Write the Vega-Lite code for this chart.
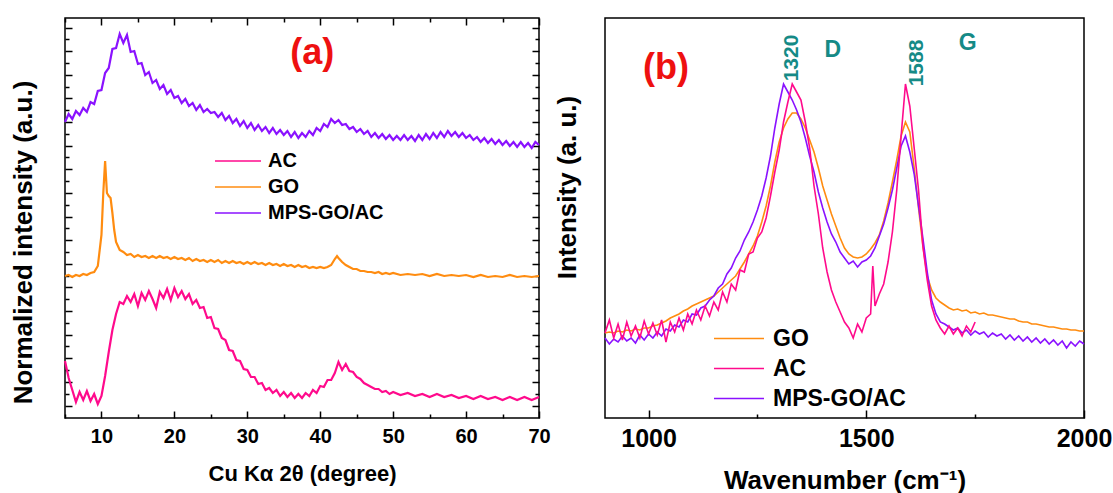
{
  "$schema": "https://vega.github.io/schema/vega-lite/v6.json",
  "background": "white",
  "padding": {"left": 9, "top": 16, "right": 0, "bottom": 0},
  "spacing": 2,
  "datasets": {
    "xrd": [
      {"s":"MPS-GO/AC","x":5,"y":296},{"s":"MPS-GO/AC","x":5.5,"y":304},{"s":"MPS-GO/AC","x":6,"y":299},{"s":"MPS-GO/AC","x":6.5,"y":307},{"s":"MPS-GO/AC","x":7,"y":303},{"s":"MPS-GO/AC","x":7.5,"y":310},{"s":"MPS-GO/AC","x":8,"y":306},{"s":"MPS-GO/AC","x":8.5,"y":316},{"s":"MPS-GO/AC","x":9,"y":314},{"s":"MPS-GO/AC","x":9.5,"y":327},
      {"s":"MPS-GO/AC","x":10,"y":328},{"s":"MPS-GO/AC","x":10.5,"y":345},{"s":"MPS-GO/AC","x":11,"y":350},{"s":"MPS-GO/AC","x":11.5,"y":369},{"s":"MPS-GO/AC","x":12,"y":370},{"s":"MPS-GO/AC","x":12.5,"y":384},{"s":"MPS-GO/AC","x":13,"y":375},{"s":"MPS-GO/AC","x":13.5,"y":383},{"s":"MPS-GO/AC","x":14,"y":366},{"s":"MPS-GO/AC","x":14.5,"y":367},
      {"s":"MPS-GO/AC","x":15,"y":354},{"s":"MPS-GO/AC","x":15.5,"y":355},{"s":"MPS-GO/AC","x":16,"y":343},{"s":"MPS-GO/AC","x":16.5,"y":346},{"s":"MPS-GO/AC","x":17,"y":335},{"s":"MPS-GO/AC","x":17.5,"y":338},{"s":"MPS-GO/AC","x":18,"y":329},{"s":"MPS-GO/AC","x":18.5,"y":333},{"s":"MPS-GO/AC","x":19,"y":324},{"s":"MPS-GO/AC","x":19.5,"y":328},
      {"s":"MPS-GO/AC","x":20,"y":320},{"s":"MPS-GO/AC","x":20.5,"y":322},{"s":"MPS-GO/AC","x":21,"y":315},{"s":"MPS-GO/AC","x":21.5,"y":319},{"s":"MPS-GO/AC","x":22,"y":312},{"s":"MPS-GO/AC","x":22.5,"y":315},{"s":"MPS-GO/AC","x":23,"y":308},{"s":"MPS-GO/AC","x":23.5,"y":313},{"s":"MPS-GO/AC","x":24,"y":306},{"s":"MPS-GO/AC","x":24.5,"y":309},
      {"s":"MPS-GO/AC","x":25,"y":305},{"s":"MPS-GO/AC","x":25.5,"y":306},{"s":"MPS-GO/AC","x":26,"y":301},{"s":"MPS-GO/AC","x":26.5,"y":305},{"s":"MPS-GO/AC","x":27,"y":298},{"s":"MPS-GO/AC","x":27.5,"y":302},{"s":"MPS-GO/AC","x":28,"y":295},{"s":"MPS-GO/AC","x":28.5,"y":299},{"s":"MPS-GO/AC","x":29,"y":292},{"s":"MPS-GO/AC","x":29.5,"y":297},
      {"s":"MPS-GO/AC","x":30,"y":290},{"s":"MPS-GO/AC","x":30.5,"y":295},{"s":"MPS-GO/AC","x":31,"y":288},{"s":"MPS-GO/AC","x":31.5,"y":293},{"s":"MPS-GO/AC","x":32,"y":287},{"s":"MPS-GO/AC","x":32.5,"y":291},{"s":"MPS-GO/AC","x":33,"y":285},{"s":"MPS-GO/AC","x":33.5,"y":290},{"s":"MPS-GO/AC","x":34,"y":284},{"s":"MPS-GO/AC","x":34.5,"y":288},
      {"s":"MPS-GO/AC","x":35,"y":283},{"s":"MPS-GO/AC","x":35.5,"y":287},{"s":"MPS-GO/AC","x":36,"y":281},{"s":"MPS-GO/AC","x":36.5,"y":286},{"s":"MPS-GO/AC","x":37,"y":280},{"s":"MPS-GO/AC","x":37.5,"y":285},{"s":"MPS-GO/AC","x":38,"y":281},{"s":"MPS-GO/AC","x":38.5,"y":287},{"s":"MPS-GO/AC","x":39,"y":283},{"s":"MPS-GO/AC","x":39.5,"y":290},
      {"s":"MPS-GO/AC","x":40,"y":287},{"s":"MPS-GO/AC","x":40.5,"y":294},{"s":"MPS-GO/AC","x":41,"y":291},{"s":"MPS-GO/AC","x":41.5,"y":299},{"s":"MPS-GO/AC","x":42,"y":295},{"s":"MPS-GO/AC","x":42.5,"y":298},{"s":"MPS-GO/AC","x":43,"y":293},{"s":"MPS-GO/AC","x":43.5,"y":294},{"s":"MPS-GO/AC","x":44,"y":289},{"s":"MPS-GO/AC","x":44.5,"y":291},
      {"s":"MPS-GO/AC","x":45,"y":286},{"s":"MPS-GO/AC","x":45.5,"y":289},{"s":"MPS-GO/AC","x":46,"y":284},{"s":"MPS-GO/AC","x":46.5,"y":287},{"s":"MPS-GO/AC","x":47,"y":281},{"s":"MPS-GO/AC","x":47.5,"y":285},{"s":"MPS-GO/AC","x":48,"y":280},{"s":"MPS-GO/AC","x":48.5,"y":284},{"s":"MPS-GO/AC","x":49,"y":279},{"s":"MPS-GO/AC","x":49.5,"y":283},
      {"s":"MPS-GO/AC","x":50,"y":278},{"s":"MPS-GO/AC","x":50.5,"y":282},{"s":"MPS-GO/AC","x":51,"y":278},{"s":"MPS-GO/AC","x":51.5,"y":283},{"s":"MPS-GO/AC","x":52,"y":278},{"s":"MPS-GO/AC","x":52.5,"y":282},{"s":"MPS-GO/AC","x":53,"y":277},{"s":"MPS-GO/AC","x":53.5,"y":283},{"s":"MPS-GO/AC","x":54,"y":278},{"s":"MPS-GO/AC","x":54.5,"y":284},
      {"s":"MPS-GO/AC","x":55,"y":279},{"s":"MPS-GO/AC","x":55.5,"y":285},{"s":"MPS-GO/AC","x":56,"y":280},{"s":"MPS-GO/AC","x":56.5,"y":286},{"s":"MPS-GO/AC","x":57,"y":281},{"s":"MPS-GO/AC","x":57.5,"y":287},{"s":"MPS-GO/AC","x":58,"y":282},{"s":"MPS-GO/AC","x":58.5,"y":286},{"s":"MPS-GO/AC","x":59,"y":281},{"s":"MPS-GO/AC","x":59.5,"y":285},
      {"s":"MPS-GO/AC","x":60,"y":280},{"s":"MPS-GO/AC","x":60.5,"y":283},{"s":"MPS-GO/AC","x":61,"y":278},{"s":"MPS-GO/AC","x":61.5,"y":281},{"s":"MPS-GO/AC","x":62,"y":276},{"s":"MPS-GO/AC","x":62.5,"y":280},{"s":"MPS-GO/AC","x":63,"y":275},{"s":"MPS-GO/AC","x":63.5,"y":279},{"s":"MPS-GO/AC","x":64,"y":274},{"s":"MPS-GO/AC","x":64.5,"y":278},
      {"s":"MPS-GO/AC","x":65,"y":273},{"s":"MPS-GO/AC","x":65.5,"y":277},{"s":"MPS-GO/AC","x":66,"y":272},{"s":"MPS-GO/AC","x":66.5,"y":276},{"s":"MPS-GO/AC","x":67,"y":271},{"s":"MPS-GO/AC","x":67.5,"y":276},{"s":"MPS-GO/AC","x":68,"y":271},{"s":"MPS-GO/AC","x":68.5,"y":275},{"s":"MPS-GO/AC","x":69,"y":270},{"s":"MPS-GO/AC","x":69.5,"y":276},{"s":"MPS-GO/AC","x":70,"y":273},

      {"s":"GO","x":5,"y":142},{"s":"GO","x":5.5,"y":143},{"s":"GO","x":6,"y":141},{"s":"GO","x":6.5,"y":143},{"s":"GO","x":7,"y":142},{"s":"GO","x":7.5,"y":144},{"s":"GO","x":8,"y":143},{"s":"GO","x":8.5,"y":145},{"s":"GO","x":9,"y":146},{"s":"GO","x":9.5,"y":152},
      {"s":"GO","x":10,"y":183},{"s":"GO","x":10.25,"y":225},{"s":"GO","x":10.5,"y":257},{"s":"GO","x":10.75,"y":225},{"s":"GO","x":11,"y":222},{"s":"GO","x":11.25,"y":220},{"s":"GO","x":11.5,"y":205},{"s":"GO","x":11.75,"y":188},{"s":"GO","x":12,"y":176},{"s":"GO","x":12.5,"y":168},
      {"s":"GO","x":13,"y":166},{"s":"GO","x":13.5,"y":163},{"s":"GO","x":14,"y":164},{"s":"GO","x":14.5,"y":161},{"s":"GO","x":15,"y":163},{"s":"GO","x":15.5,"y":161},{"s":"GO","x":16,"y":162},{"s":"GO","x":16.5,"y":160},{"s":"GO","x":17,"y":162},{"s":"GO","x":17.5,"y":160},
      {"s":"GO","x":18,"y":162},{"s":"GO","x":18.5,"y":160},{"s":"GO","x":19,"y":161},{"s":"GO","x":19.5,"y":159},{"s":"GO","x":20,"y":161},{"s":"GO","x":20.5,"y":159},{"s":"GO","x":21,"y":160},{"s":"GO","x":21.5,"y":158},{"s":"GO","x":22,"y":160},{"s":"GO","x":22.5,"y":157},
      {"s":"GO","x":23,"y":159},{"s":"GO","x":23.5,"y":157},{"s":"GO","x":24,"y":158},{"s":"GO","x":24.5,"y":156},{"s":"GO","x":25,"y":158},{"s":"GO","x":25.5,"y":156},{"s":"GO","x":26,"y":158},{"s":"GO","x":26.5,"y":155},{"s":"GO","x":27,"y":157},{"s":"GO","x":27.5,"y":155},
      {"s":"GO","x":28,"y":157},{"s":"GO","x":28.5,"y":155},{"s":"GO","x":29,"y":156},{"s":"GO","x":29.5,"y":154},{"s":"GO","x":30,"y":156},{"s":"GO","x":30.5,"y":154},{"s":"GO","x":31,"y":156},{"s":"GO","x":31.5,"y":154},{"s":"GO","x":32,"y":155},{"s":"GO","x":32.5,"y":153},
      {"s":"GO","x":33,"y":155},{"s":"GO","x":33.5,"y":153},{"s":"GO","x":34,"y":154},{"s":"GO","x":34.5,"y":152},{"s":"GO","x":35,"y":154},{"s":"GO","x":35.5,"y":152},{"s":"GO","x":36,"y":153},{"s":"GO","x":36.5,"y":151},{"s":"GO","x":37,"y":153},{"s":"GO","x":37.5,"y":151},
      {"s":"GO","x":38,"y":152},{"s":"GO","x":38.5,"y":150},{"s":"GO","x":39,"y":151},{"s":"GO","x":39.5,"y":150},{"s":"GO","x":40,"y":151},{"s":"GO","x":40.5,"y":150},{"s":"GO","x":41,"y":151},{"s":"GO","x":41.5,"y":153},{"s":"GO","x":42,"y":159},{"s":"GO","x":42.3,"y":162},
      {"s":"GO","x":42.5,"y":160},{"s":"GO","x":43,"y":156},{"s":"GO","x":43.5,"y":153},{"s":"GO","x":44,"y":151},{"s":"GO","x":44.5,"y":149},{"s":"GO","x":45,"y":149},{"s":"GO","x":45.5,"y":147},{"s":"GO","x":46,"y":147},{"s":"GO","x":46.5,"y":146},{"s":"GO","x":47,"y":146},
      {"s":"GO","x":47.5,"y":145},{"s":"GO","x":48,"y":146},{"s":"GO","x":48.5,"y":144},{"s":"GO","x":49,"y":145},{"s":"GO","x":49.5,"y":144},{"s":"GO","x":50,"y":145},{"s":"GO","x":51,"y":143},{"s":"GO","x":52,"y":144},{"s":"GO","x":53,"y":143},{"s":"GO","x":54,"y":144},
      {"s":"GO","x":55,"y":142},{"s":"GO","x":56,"y":144},{"s":"GO","x":57,"y":142},{"s":"GO","x":58,"y":143},{"s":"GO","x":59,"y":142},{"s":"GO","x":60,"y":143},{"s":"GO","x":61,"y":141},{"s":"GO","x":62,"y":143},{"s":"GO","x":63,"y":141},{"s":"GO","x":64,"y":142},
      {"s":"GO","x":65,"y":141},{"s":"GO","x":66,"y":143},{"s":"GO","x":67,"y":141},{"s":"GO","x":68,"y":142},{"s":"GO","x":69,"y":141},{"s":"GO","x":70,"y":142},

      {"s":"AC","x":5,"y":57},{"s":"AC","x":5.5,"y":40},{"s":"AC","x":6,"y":28},{"s":"AC","x":6.5,"y":16},{"s":"AC","x":7,"y":26},{"s":"AC","x":7.5,"y":18},{"s":"AC","x":8,"y":27},{"s":"AC","x":8.5,"y":17},{"s":"AC","x":9,"y":24},{"s":"AC","x":9.5,"y":14},
      {"s":"AC","x":10,"y":22},{"s":"AC","x":10.5,"y":42},{"s":"AC","x":11,"y":66},{"s":"AC","x":11.5,"y":88},{"s":"AC","x":12,"y":104},{"s":"AC","x":12.5,"y":116},{"s":"AC","x":13,"y":114},{"s":"AC","x":13.5,"y":122},{"s":"AC","x":14,"y":116},{"s":"AC","x":14.5,"y":124},
      {"s":"AC","x":15,"y":112},{"s":"AC","x":15.5,"y":125},{"s":"AC","x":16,"y":118},{"s":"AC","x":16.5,"y":127},{"s":"AC","x":17,"y":119},{"s":"AC","x":17.5,"y":110},{"s":"AC","x":18,"y":126},{"s":"AC","x":18.5,"y":120},{"s":"AC","x":19,"y":129},{"s":"AC","x":19.5,"y":118},
      {"s":"AC","x":20,"y":130},{"s":"AC","x":20.5,"y":121},{"s":"AC","x":21,"y":127},{"s":"AC","x":21.5,"y":119},{"s":"AC","x":22,"y":124},{"s":"AC","x":22.5,"y":114},{"s":"AC","x":23,"y":118},{"s":"AC","x":23.5,"y":110},{"s":"AC","x":24,"y":111},{"s":"AC","x":24.5,"y":100},
      {"s":"AC","x":25,"y":101},{"s":"AC","x":25.5,"y":90},{"s":"AC","x":26,"y":89},{"s":"AC","x":26.5,"y":80},{"s":"AC","x":27,"y":78},{"s":"AC","x":27.5,"y":68},{"s":"AC","x":28,"y":67},{"s":"AC","x":28.5,"y":58},{"s":"AC","x":29,"y":57},{"s":"AC","x":29.5,"y":49},
      {"s":"AC","x":30,"y":48},{"s":"AC","x":30.5,"y":41},{"s":"AC","x":31,"y":41},{"s":"AC","x":31.5,"y":34},{"s":"AC","x":32,"y":35},{"s":"AC","x":32.5,"y":28},{"s":"AC","x":33,"y":30},{"s":"AC","x":33.5,"y":25},{"s":"AC","x":34,"y":28},{"s":"AC","x":34.5,"y":22},
      {"s":"AC","x":35,"y":26},{"s":"AC","x":35.5,"y":21},{"s":"AC","x":36,"y":25},{"s":"AC","x":36.5,"y":20},{"s":"AC","x":37,"y":24},{"s":"AC","x":37.5,"y":20},{"s":"AC","x":38,"y":25},{"s":"AC","x":38.5,"y":22},{"s":"AC","x":39,"y":28},{"s":"AC","x":39.5,"y":25},
      {"s":"AC","x":40,"y":32},{"s":"AC","x":40.5,"y":31},{"s":"AC","x":41,"y":38},{"s":"AC","x":41.5,"y":38},{"s":"AC","x":42,"y":45},{"s":"AC","x":42.5,"y":56},{"s":"AC","x":43,"y":48},{"s":"AC","x":43.5,"y":54},{"s":"AC","x":44,"y":47},{"s":"AC","x":44.5,"y":46},
      {"s":"AC","x":45,"y":41},{"s":"AC","x":45.5,"y":39},{"s":"AC","x":46,"y":35},{"s":"AC","x":46.5,"y":33},{"s":"AC","x":47,"y":31},{"s":"AC","x":47.5,"y":29},{"s":"AC","x":48,"y":29},{"s":"AC","x":48.5,"y":26},{"s":"AC","x":49,"y":27},{"s":"AC","x":49.5,"y":24},
      {"s":"AC","x":50,"y":26},{"s":"AC","x":51,"y":23},{"s":"AC","x":52,"y":25},{"s":"AC","x":53,"y":22},{"s":"AC","x":54,"y":24},{"s":"AC","x":55,"y":21},{"s":"AC","x":56,"y":24},{"s":"AC","x":57,"y":21},{"s":"AC","x":58,"y":23},{"s":"AC","x":59,"y":20},
      {"s":"AC","x":60,"y":22},{"s":"AC","x":61,"y":19},{"s":"AC","x":62,"y":22},{"s":"AC","x":63,"y":19},{"s":"AC","x":64,"y":21},{"s":"AC","x":65,"y":18},{"s":"AC","x":66,"y":21},{"s":"AC","x":67,"y":18},{"s":"AC","x":68,"y":21},{"s":"AC","x":69,"y":18},{"s":"AC","x":70,"y":21}
    ],
    "raman": [
      {"s":"GO","x":900,"y":85},{"s":"GO","x":910,"y":86},{"s":"GO","x":920,"y":85},{"s":"GO","x":930,"y":87},{"s":"GO","x":940,"y":86},{"s":"GO","x":950,"y":88},{"s":"GO","x":960,"y":87},{"s":"GO","x":970,"y":89},{"s":"GO","x":980,"y":88},{"s":"GO","x":990,"y":90},
      {"s":"GO","x":1000,"y":90},{"s":"GO","x":1010,"y":92},{"s":"GO","x":1020,"y":93},{"s":"GO","x":1030,"y":95},{"s":"GO","x":1040,"y":97},{"s":"GO","x":1050,"y":100},{"s":"GO","x":1060,"y":102},{"s":"GO","x":1070,"y":104},{"s":"GO","x":1080,"y":107},{"s":"GO","x":1090,"y":109},
      {"s":"GO","x":1100,"y":112},{"s":"GO","x":1110,"y":114},{"s":"GO","x":1120,"y":116},{"s":"GO","x":1130,"y":118},{"s":"GO","x":1140,"y":120},{"s":"GO","x":1150,"y":122},{"s":"GO","x":1160,"y":126},{"s":"GO","x":1170,"y":130},{"s":"GO","x":1180,"y":134},{"s":"GO","x":1190,"y":138},
      {"s":"GO","x":1200,"y":142},{"s":"GO","x":1210,"y":149},{"s":"GO","x":1220,"y":156},{"s":"GO","x":1230,"y":164},{"s":"GO","x":1240,"y":172},{"s":"GO","x":1250,"y":182},{"s":"GO","x":1260,"y":196},{"s":"GO","x":1270,"y":212},{"s":"GO","x":1280,"y":232},{"s":"GO","x":1290,"y":256},
      {"s":"GO","x":1300,"y":276},{"s":"GO","x":1310,"y":290},{"s":"GO","x":1320,"y":299},{"s":"GO","x":1330,"y":305},{"s":"GO","x":1340,"y":305},{"s":"GO","x":1350,"y":299},{"s":"GO","x":1360,"y":290},{"s":"GO","x":1370,"y":278},{"s":"GO","x":1380,"y":266},{"s":"GO","x":1390,"y":250},
      {"s":"GO","x":1400,"y":232},{"s":"GO","x":1410,"y":218},{"s":"GO","x":1420,"y":204},{"s":"GO","x":1430,"y":192},{"s":"GO","x":1440,"y":180},{"s":"GO","x":1450,"y":170},{"s":"GO","x":1460,"y":164},{"s":"GO","x":1470,"y":161},{"s":"GO","x":1480,"y":160},{"s":"GO","x":1490,"y":161},
      {"s":"GO","x":1500,"y":164},{"s":"GO","x":1510,"y":169},{"s":"GO","x":1520,"y":175},{"s":"GO","x":1530,"y":183},{"s":"GO","x":1540,"y":197},{"s":"GO","x":1550,"y":215},{"s":"GO","x":1560,"y":236},{"s":"GO","x":1570,"y":258},{"s":"GO","x":1580,"y":282},{"s":"GO","x":1590,"y":296},
      {"s":"GO","x":1600,"y":286},{"s":"GO","x":1610,"y":250},{"s":"GO","x":1620,"y":210},{"s":"GO","x":1630,"y":172},{"s":"GO","x":1640,"y":142},{"s":"GO","x":1650,"y":128},{"s":"GO","x":1660,"y":120},{"s":"GO","x":1670,"y":116},{"s":"GO","x":1680,"y":113},{"s":"GO","x":1690,"y":110},
      {"s":"GO","x":1700,"y":108},{"s":"GO","x":1710,"y":109},{"s":"GO","x":1720,"y":107},{"s":"GO","x":1730,"y":108},{"s":"GO","x":1740,"y":105},{"s":"GO","x":1750,"y":106},{"s":"GO","x":1760,"y":104},{"s":"GO","x":1770,"y":105},{"s":"GO","x":1780,"y":103},{"s":"GO","x":1790,"y":103},
      {"s":"GO","x":1800,"y":102},{"s":"GO","x":1810,"y":101},{"s":"GO","x":1820,"y":100},{"s":"GO","x":1830,"y":99},{"s":"GO","x":1840,"y":99},{"s":"GO","x":1850,"y":97},{"s":"GO","x":1860,"y":96},{"s":"GO","x":1870,"y":96},{"s":"GO","x":1880,"y":94},{"s":"GO","x":1890,"y":94},
      {"s":"GO","x":1900,"y":93},{"s":"GO","x":1910,"y":92},{"s":"GO","x":1920,"y":91},{"s":"GO","x":1930,"y":91},{"s":"GO","x":1940,"y":90},{"s":"GO","x":1950,"y":89},{"s":"GO","x":1960,"y":89},{"s":"GO","x":1970,"y":88},{"s":"GO","x":1980,"y":88},{"s":"GO","x":1990,"y":87},{"s":"GO","x":2000,"y":87},

      {"s":"MPS-GO/AC","x":900,"y":80},{"s":"MPS-GO/AC","x":910,"y":74},{"s":"MPS-GO/AC","x":920,"y":79},{"s":"MPS-GO/AC","x":930,"y":76},{"s":"MPS-GO/AC","x":940,"y":82},{"s":"MPS-GO/AC","x":950,"y":77},{"s":"MPS-GO/AC","x":960,"y":80},{"s":"MPS-GO/AC","x":970,"y":75},{"s":"MPS-GO/AC","x":980,"y":83},{"s":"MPS-GO/AC","x":990,"y":78},
      {"s":"MPS-GO/AC","x":1000,"y":84},{"s":"MPS-GO/AC","x":1010,"y":80},{"s":"MPS-GO/AC","x":1020,"y":86},{"s":"MPS-GO/AC","x":1030,"y":82},{"s":"MPS-GO/AC","x":1040,"y":89},{"s":"MPS-GO/AC","x":1050,"y":87},{"s":"MPS-GO/AC","x":1060,"y":93},{"s":"MPS-GO/AC","x":1070,"y":91},{"s":"MPS-GO/AC","x":1080,"y":98},{"s":"MPS-GO/AC","x":1090,"y":96},
      {"s":"MPS-GO/AC","x":1100,"y":104},{"s":"MPS-GO/AC","x":1110,"y":103},{"s":"MPS-GO/AC","x":1120,"y":110},{"s":"MPS-GO/AC","x":1130,"y":112},{"s":"MPS-GO/AC","x":1140,"y":118},{"s":"MPS-GO/AC","x":1150,"y":122},{"s":"MPS-GO/AC","x":1160,"y":130},{"s":"MPS-GO/AC","x":1170,"y":134},{"s":"MPS-GO/AC","x":1180,"y":144},{"s":"MPS-GO/AC","x":1190,"y":150},
      {"s":"MPS-GO/AC","x":1200,"y":160},{"s":"MPS-GO/AC","x":1210,"y":167},{"s":"MPS-GO/AC","x":1220,"y":178},{"s":"MPS-GO/AC","x":1230,"y":186},{"s":"MPS-GO/AC","x":1240,"y":196},{"s":"MPS-GO/AC","x":1250,"y":208},{"s":"MPS-GO/AC","x":1260,"y":222},{"s":"MPS-GO/AC","x":1270,"y":240},{"s":"MPS-GO/AC","x":1280,"y":262},{"s":"MPS-GO/AC","x":1290,"y":290},
      {"s":"MPS-GO/AC","x":1300,"y":314},{"s":"MPS-GO/AC","x":1310,"y":334},{"s":"MPS-GO/AC","x":1320,"y":326},{"s":"MPS-GO/AC","x":1330,"y":318},{"s":"MPS-GO/AC","x":1340,"y":308},{"s":"MPS-GO/AC","x":1350,"y":296},{"s":"MPS-GO/AC","x":1360,"y":280},{"s":"MPS-GO/AC","x":1370,"y":262},{"s":"MPS-GO/AC","x":1380,"y":246},{"s":"MPS-GO/AC","x":1390,"y":226},
      {"s":"MPS-GO/AC","x":1400,"y":210},{"s":"MPS-GO/AC","x":1410,"y":196},{"s":"MPS-GO/AC","x":1420,"y":184},{"s":"MPS-GO/AC","x":1430,"y":176},{"s":"MPS-GO/AC","x":1440,"y":166},{"s":"MPS-GO/AC","x":1450,"y":160},{"s":"MPS-GO/AC","x":1460,"y":154},{"s":"MPS-GO/AC","x":1470,"y":157},{"s":"MPS-GO/AC","x":1480,"y":151},{"s":"MPS-GO/AC","x":1490,"y":156},
      {"s":"MPS-GO/AC","x":1500,"y":158},{"s":"MPS-GO/AC","x":1510,"y":162},{"s":"MPS-GO/AC","x":1520,"y":170},{"s":"MPS-GO/AC","x":1530,"y":182},{"s":"MPS-GO/AC","x":1540,"y":194},{"s":"MPS-GO/AC","x":1550,"y":210},{"s":"MPS-GO/AC","x":1560,"y":228},{"s":"MPS-GO/AC","x":1570,"y":250},{"s":"MPS-GO/AC","x":1580,"y":272},{"s":"MPS-GO/AC","x":1590,"y":282},
      {"s":"MPS-GO/AC","x":1600,"y":266},{"s":"MPS-GO/AC","x":1610,"y":244},{"s":"MPS-GO/AC","x":1620,"y":212},{"s":"MPS-GO/AC","x":1630,"y":180},{"s":"MPS-GO/AC","x":1640,"y":146},{"s":"MPS-GO/AC","x":1650,"y":118},{"s":"MPS-GO/AC","x":1660,"y":104},{"s":"MPS-GO/AC","x":1670,"y":96},{"s":"MPS-GO/AC","x":1680,"y":94},{"s":"MPS-GO/AC","x":1690,"y":91},
      {"s":"MPS-GO/AC","x":1700,"y":88},{"s":"MPS-GO/AC","x":1710,"y":90},{"s":"MPS-GO/AC","x":1720,"y":85},{"s":"MPS-GO/AC","x":1730,"y":88},{"s":"MPS-GO/AC","x":1740,"y":83},{"s":"MPS-GO/AC","x":1750,"y":87},{"s":"MPS-GO/AC","x":1760,"y":84},{"s":"MPS-GO/AC","x":1770,"y":86},{"s":"MPS-GO/AC","x":1780,"y":81},{"s":"MPS-GO/AC","x":1790,"y":85},
      {"s":"MPS-GO/AC","x":1800,"y":82},{"s":"MPS-GO/AC","x":1810,"y":84},{"s":"MPS-GO/AC","x":1820,"y":79},{"s":"MPS-GO/AC","x":1830,"y":83},{"s":"MPS-GO/AC","x":1840,"y":78},{"s":"MPS-GO/AC","x":1850,"y":82},{"s":"MPS-GO/AC","x":1860,"y":77},{"s":"MPS-GO/AC","x":1870,"y":81},{"s":"MPS-GO/AC","x":1880,"y":76},{"s":"MPS-GO/AC","x":1890,"y":80},
      {"s":"MPS-GO/AC","x":1900,"y":75},{"s":"MPS-GO/AC","x":1910,"y":79},{"s":"MPS-GO/AC","x":1920,"y":74},{"s":"MPS-GO/AC","x":1930,"y":78},{"s":"MPS-GO/AC","x":1940,"y":73},{"s":"MPS-GO/AC","x":1950,"y":77},{"s":"MPS-GO/AC","x":1960,"y":70},{"s":"MPS-GO/AC","x":1970,"y":76},{"s":"MPS-GO/AC","x":1980,"y":72},{"s":"MPS-GO/AC","x":1990,"y":77},{"s":"MPS-GO/AC","x":2000,"y":74},

      {"s":"AC","x":900,"y":85},{"s":"AC","x":910,"y":98},{"s":"AC","x":920,"y":80},{"s":"AC","x":930,"y":94},{"s":"AC","x":940,"y":78},{"s":"AC","x":950,"y":96},{"s":"AC","x":960,"y":82},{"s":"AC","x":970,"y":92},{"s":"AC","x":980,"y":80},{"s":"AC","x":990,"y":97},
      {"s":"AC","x":1000,"y":84},{"s":"AC","x":1010,"y":95},{"s":"AC","x":1020,"y":83},{"s":"AC","x":1030,"y":98},{"s":"AC","x":1040,"y":76},{"s":"AC","x":1050,"y":96},{"s":"AC","x":1060,"y":86},{"s":"AC","x":1070,"y":100},{"s":"AC","x":1080,"y":88},{"s":"AC","x":1090,"y":104},
      {"s":"AC","x":1100,"y":94},{"s":"AC","x":1110,"y":108},{"s":"AC","x":1120,"y":98},{"s":"AC","x":1130,"y":112},{"s":"AC","x":1140,"y":102},{"s":"AC","x":1150,"y":116},{"s":"AC","x":1160,"y":108},{"s":"AC","x":1170,"y":126},{"s":"AC","x":1180,"y":116},{"s":"AC","x":1190,"y":134},
      {"s":"AC","x":1200,"y":128},{"s":"AC","x":1210,"y":148},{"s":"AC","x":1220,"y":146},{"s":"AC","x":1230,"y":164},{"s":"AC","x":1240,"y":166},{"s":"AC","x":1250,"y":180},{"s":"AC","x":1260,"y":186},{"s":"AC","x":1270,"y":200},{"s":"AC","x":1280,"y":222},{"s":"AC","x":1290,"y":246},
      {"s":"AC","x":1300,"y":268},{"s":"AC","x":1310,"y":296},{"s":"AC","x":1320,"y":316},{"s":"AC","x":1330,"y":334},{"s":"AC","x":1340,"y":326},{"s":"AC","x":1350,"y":318},{"s":"AC","x":1360,"y":296},{"s":"AC","x":1370,"y":270},{"s":"AC","x":1380,"y":232},{"s":"AC","x":1390,"y":204},
      {"s":"AC","x":1400,"y":170},{"s":"AC","x":1410,"y":146},{"s":"AC","x":1420,"y":128},{"s":"AC","x":1430,"y":116},{"s":"AC","x":1440,"y":106},{"s":"AC","x":1450,"y":96},{"s":"AC","x":1460,"y":90},{"s":"AC","x":1470,"y":80},{"s":"AC","x":1480,"y":94},{"s":"AC","x":1490,"y":86},
      {"s":"AC","x":1500,"y":100},{"s":"AC","x":1510,"y":104},{"s":"AC","x":1515,"y":152},{"s":"AC","x":1520,"y":112},{"s":"AC","x":1530,"y":124},{"s":"AC","x":1540,"y":134},{"s":"AC","x":1550,"y":156},{"s":"AC","x":1560,"y":186},{"s":"AC","x":1570,"y":228},{"s":"AC","x":1580,"y":282},
      {"s":"AC","x":1590,"y":334},{"s":"AC","x":1600,"y":312},{"s":"AC","x":1610,"y":270},{"s":"AC","x":1620,"y":228},{"s":"AC","x":1630,"y":172},{"s":"AC","x":1640,"y":138},{"s":"AC","x":1650,"y":112},{"s":"AC","x":1660,"y":98},{"s":"AC","x":1670,"y":90},{"s":"AC","x":1680,"y":84},
      {"s":"AC","x":1690,"y":92},{"s":"AC","x":1700,"y":84},{"s":"AC","x":1710,"y":90},{"s":"AC","x":1720,"y":82},{"s":"AC","x":1730,"y":92},{"s":"AC","x":1740,"y":86},{"s":"AC","x":1750,"y":96}
    ]
  },
  "hconcat": [
    {
      "width": 474,
      "height": 400,
      "layer": [
        {
          "data": {"name": "xrd"},
          "mark": {"type": "line", "strokeWidth": 2.2},
          "encoding": {
            "x": {"field": "x", "type": "quantitative",
              "scale": {"domain": [5, 70], "nice": false, "zero": false},
              "axis": {"orient": "bottom", "values": [5,10,15,20,25,30,35,40,45,50,55,60,65,70],
                "labelExpr": "datum.value % 10 == 0 ? datum.label : ''",
                "tickSize": {"condition": {"test": "datum.value % 10 == 0", "value": -7}, "value": -4},
                "labelFontSize": 20, "labelPadding": 15, "labelFlush": false, "labelOverlap": false, "labelBound": false,
                "title": "Cu Kα 2θ (degree)", "titleFontSize": 22, "titlePadding": 14}},
            "y": {"field": "y", "type": "quantitative",
              "scale": {"domain": [0, 400], "nice": false, "zero": false},
              "axis": {"orient": "left",
                "values": [12.5,24.31,36.12,47.93,59.74,71.55,83.36,95.17,106.98,118.79,130.6,142.41,154.22,166.03,177.84,189.65,201.46,213.27,225.08,236.89,248.7,260.51,272.32,284.13,295.94,307.75,319.56,331.37,343.18,354.99,366.8,378.61,390.42],
                "labels": false,
                "tickSize": {"condition": {"test": "round((datum.value - 12.5) / 11.81) % 2 == 0", "value": -7}, "value": -4},
                "title": "Normalized intensity (a.u.)", "titleFontSize": 26, "titleX": -29, "titleY": 224}},
            "color": {"field": "s", "type": "nominal",
              "scale": {"domain": ["AC", "GO", "MPS-GO/AC"], "range": ["#ff0a8c", "#ff8c10", "#8a12ff"]},
              "legend": {"orient": "none", "legendX": 149, "legendY": 133, "title": null,
                "symbolType": "stroke", "symbolSize": 2116, "symbolStrokeWidth": 1.6,
                "clipHeight": 20, "rowPadding": 6, "labelOffset": 6, "padding": 0,
                "labelFontSize": 20, "labelFontWeight": "bold", "labelFont": "Liberation Sans", "labelColor": "black"}}
          }
        },
        {
          "data": {"name": "xrd"},
          "mark": {"type": "point", "opacity": 0},
          "encoding": {
            "x": {"field": "x", "type": "quantitative",
              "axis": {"orient": "top", "values": [5,10,15,20,25,30,35,40,45,50,55,60,65,70], "labels": false,
                "tickSize": {"condition": {"test": "datum.value % 10 == 0", "value": -7}, "value": -4}, "title": null}},
            "y": {"field": "y", "type": "quantitative",
              "axis": {"orient": "right",
                "values": [12.5,24.31,36.12,47.93,59.74,71.55,83.36,95.17,106.98,118.79,130.6,142.41,154.22,166.03,177.84,189.65,201.46,213.27,225.08,236.89,248.7,260.51,272.32,284.13,295.94,307.75,319.56,331.37,343.18,354.99,366.8,378.61,390.42],
                "labels": false,
                "tickSize": {"condition": {"test": "round((datum.value - 12.5) / 11.81) % 2 == 0", "value": -7}, "value": -4},
                "title": null}}
          }
        },
        {
          "data": {"values": [{"x": 38.9, "y": 365, "t": "(a)"}]},
          "mark": {"type": "text", "fontSize": 36, "fontWeight": "bold", "font": "Liberation Sans", "color": "#ee1010", "align": "center", "baseline": "middle"},
          "encoding": {
            "x": {"field": "x", "type": "quantitative", "axis": null},
            "y": {"field": "y", "type": "quantitative", "axis": null},
            "text": {"field": "t"}
          }
        }
      ],
      "resolve": {"axis": {"x": "independent", "y": "independent"}}
    },
    {
      "width": 479,
      "height": 400,
      "layer": [
        {
          "data": {"name": "raman"},
          "mark": {"type": "line", "strokeWidth": 1.6},
          "encoding": {
            "x": {"field": "x", "type": "quantitative",
              "scale": {"domain": [900, 2000], "nice": false, "zero": false},
              "axis": {"orient": "bottom", "values": [1000, 1250, 1500, 1750, 2000], "format": "d",
                "labelExpr": "datum.value % 500 == 0 ? datum.label : ''",
                "tickSize": {"condition": {"test": "datum.value % 500 == 0", "value": -8}, "value": -4},
                "labelFontSize": 25, "labelPadding": 16, "labelFlush": false, "labelOverlap": false, "labelBound": false,
                "title": "Wavenumber (cm⁻¹)", "titleFontSize": 26, "titlePadding": 12}},
            "y": {"field": "y", "type": "quantitative",
              "scale": {"domain": [0, 400], "nice": false, "zero": false},
              "axis": {"orient": "left", "ticks": false, "labels": false,
                "title": "Intensity (a. u.)", "titleFontSize": 26, "titleX": -25, "titleY": 169}},
            "color": {"field": "s", "type": "nominal",
              "scale": {"domain": ["GO", "AC", "MPS-GO/AC"], "range": ["#ff8c10", "#ff0a8c", "#8a12ff"]},
              "legend": {"orient": "none", "legendX": 108, "legendY": 309, "title": null,
                "symbolType": "stroke", "symbolSize": 2500, "symbolStrokeWidth": 1.6,
                "clipHeight": 23, "rowPadding": 6, "labelOffset": 8, "padding": 0,
                "labelFontSize": 23, "labelFontWeight": "bold", "labelFont": "Liberation Sans", "labelColor": "black"}}
          }
        },
        {
          "data": {"values": [{"x": 1040, "y": 350, "t": "(b)"}]},
          "mark": {"type": "text", "fontSize": 36, "fontWeight": "bold", "font": "Liberation Sans", "color": "#ee1010", "align": "center", "baseline": "middle"},
          "encoding": {
            "x": {"field": "x", "type": "quantitative", "axis": null},
            "y": {"field": "y", "type": "quantitative", "axis": null},
            "text": {"field": "t"}
          }
        },
        {
          "data": {"values": [{"x": 1329, "y": 360, "t": "1320"}, {"x": 1616, "y": 355, "t": "1588"}]},
          "mark": {"type": "text", "fontSize": 21, "fontWeight": "bold", "font": "Liberation Sans", "color": "#158a86", "align": "center", "baseline": "middle", "angle": 270},
          "encoding": {
            "x": {"field": "x", "type": "quantitative", "axis": null},
            "y": {"field": "y", "type": "quantitative", "axis": null},
            "text": {"field": "t"}
          }
        },
        {
          "data": {"values": [{"x": 1423, "y": 368, "t": "D"}, {"x": 1733, "y": 375, "t": "G"}]},
          "mark": {"type": "text", "fontSize": 23, "fontWeight": "bold", "font": "Liberation Sans", "color": "#158a86", "align": "center", "baseline": "middle"},
          "encoding": {
            "x": {"field": "x", "type": "quantitative", "axis": null},
            "y": {"field": "y", "type": "quantitative", "axis": null},
            "text": {"field": "t"}
          }
        }
      ],
      "resolve": {"axis": {"x": "independent", "y": "independent"}}
    }
  ],
  "resolve": {"scale": {"color": "independent"}, "legend": {"color": "independent"}},
  "config": {
    "view": {"stroke": "black", "strokeWidth": 1.5},
    "font": "Liberation Sans",
    "axis": {
      "labelFont": "Liberation Sans", "titleFont": "Liberation Sans",
      "labelFontWeight": "bold", "titleFontWeight": "bold",
      "labelColor": "black", "titleColor": "black",
      "tickColor": "black", "tickWidth": 1.5,
      "domain": false, "grid": false
    }
  }
}
